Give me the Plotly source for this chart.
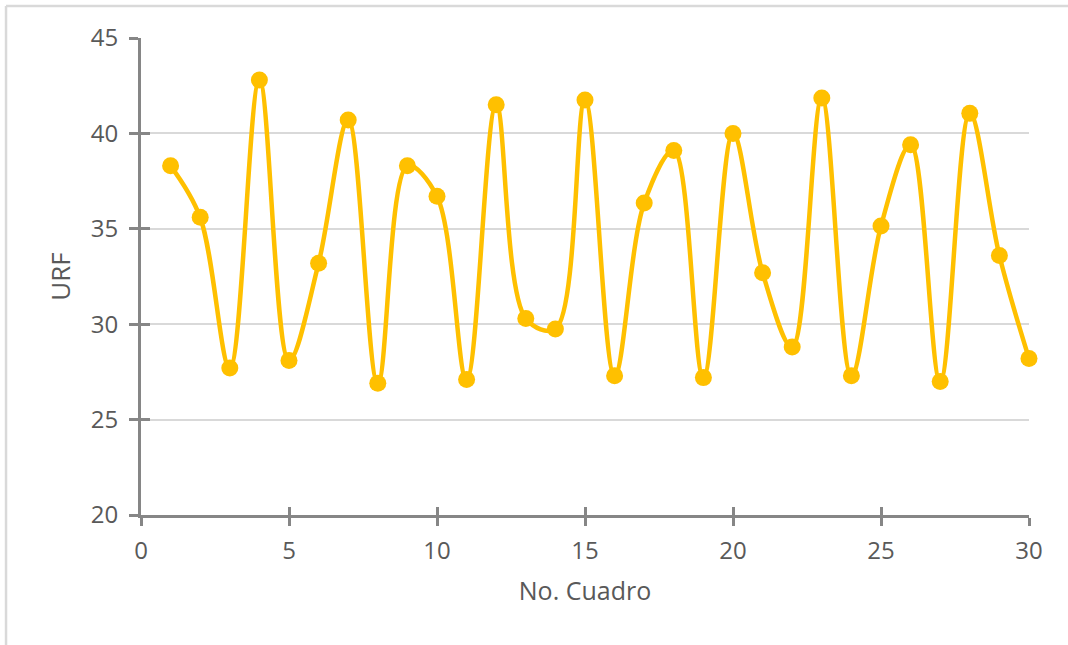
import plotly.graph_objects as go

# URF per frame
cuadro = list(range(1, 31))
urf = [38.3, 35.6, 27.7, 42.8, 28.1, 33.2, 40.7, 26.9, 38.3, 36.7,
       27.1, 41.5, 30.3, 29.75, 41.75, 27.3, 36.35, 39.1, 27.2, 40.0,
       32.7, 28.8, 41.85, 27.3, 35.15, 39.4, 27.0, 41.05, 33.6, 28.2]

x_ticks = [0, 5, 10, 15, 20, 25, 30]
y_ticks = [20, 25, 30, 35, 40, 45]

GOLD = "#FFC000"
AXIS = "#868686"
GRID = "#D9D9D9"
TEXT = "#595959"
FONT = "Open Sans"

fig = go.Figure()
fig.add_trace(go.Scatter(
    x=cuadro, y=urf, mode="lines+markers",
    line=dict(color=GOLD, width=4.5, shape="spline", smoothing=1.0),
    marker=dict(color=GOLD, size=17),
    cliponaxis=False, showlegend=False, hoverinfo="x+y",
))
# invisible trace so the overlay axes (inner half of the crossing ticks) render
fig.add_trace(go.Scatter(x=[None], y=[None], xaxis="x2", yaxis="y2",
                         showlegend=False, hoverinfo="skip"))

fig.update_layout(
    width=1068, height=645,
    margin=dict(l=141, r=39, t=38, b=130),
    paper_bgcolor="white", plot_bgcolor="white",
    font=dict(family=FONT, color=TEXT, size=24),
    xaxis=dict(
        range=[0, 30], tickvals=x_ticks, showgrid=False, zeroline=False,
        showline=True, linecolor=AXIS, linewidth=3,
        ticks="outside", ticklen=8, tickwidth=3, tickcolor=AXIS,
        ticklabelstandoff=4,
        tickfont=dict(size=24, color=TEXT),
        title=dict(text="No. Cuadro", font=dict(size=25, color=TEXT), standoff=18),
    ),
    yaxis=dict(
        range=[20, 45], tickvals=y_ticks, showgrid=True, gridcolor=GRID,
        gridwidth=2, zeroline=False,
        showline=True, linecolor=AXIS, linewidth=3,
        ticks="outside", ticklen=9, tickwidth=3, tickcolor=AXIS,
        ticklabelstandoff=6,
        tickfont=dict(size=24, color=TEXT),
        title=dict(text="URF", font=dict(size=26, color=TEXT), standoff=13),
    ),
    xaxis2=dict(
        overlaying="x", anchor="y", range=[0, 30], tickvals=x_ticks,
        showticklabels=False, showgrid=False, zeroline=False, showline=False,
        ticks="inside", ticklen=8, tickwidth=3, tickcolor=AXIS, side="bottom",
    ),
    yaxis2=dict(
        overlaying="y", anchor="x", range=[20, 45], tickvals=y_ticks,
        showticklabels=False, showgrid=False, zeroline=False, showline=False,
        ticks="inside", ticklen=9, tickwidth=3, tickcolor=AXIS, side="left",
    ),
    shapes=[
        # chart frame (top and left edges)
        dict(type="line", xref="paper", yref="paper",
             x0=-0.152, x1=1.1, y0=1.067, y1=1.067,
             line=dict(color=GRID, width=2.5)),
        dict(type="line", xref="paper", yref="paper",
             x0=-0.152, x1=-0.152, y0=1.067, y1=-0.35,
             line=dict(color=GRID, width=2.5)),
    ],
)

fig.write_html("out.html")
